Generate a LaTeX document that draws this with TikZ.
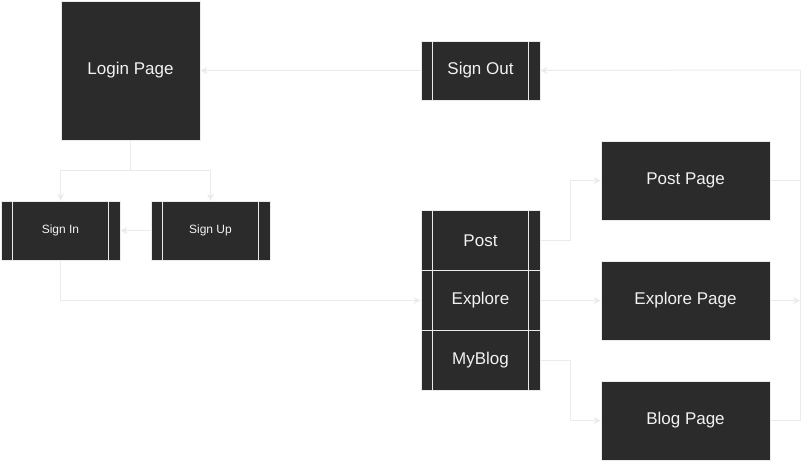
\documentclass[tikz,border=0pt]{standalone}
\usepackage{fontspec}
\setmainfont{Liberation Sans}
\usetikzlibrary{arrows.meta,calc}
\definecolor{boxc}{HTML}{2B2B2B}
\definecolor{linec}{HTML}{EBEBEB}
\definecolor{txtc}{HTML}{F2F2F2}
\tikzset{
  box/.style={draw=linec, line width=0.8pt, fill=boxc, inner sep=0pt, text=txtc, font=\fontsize{17}{20}\selectfont},
  sub/.style={box, path picture={
      \draw[linec, line width=1.2pt] ([xshift=11.5pt]path picture bounding box.north west) -- ([xshift=11.5pt]path picture bounding box.south west);
      \draw[linec, line width=1.2pt] ([xshift=-11.5pt]path picture bounding box.north east) -- ([xshift=-11.5pt]path picture bounding box.south east);}},
  small/.style={font=\fontsize{12}{14}\selectfont},
  conn/.style={draw=linec, line width=1pt},
  arr/.style={conn, -{Stealth[length=7pt,width=7pt]}},
}
\begin{document}
\begin{tikzpicture}[x=1pt,y=-1pt]
\useasboundingbox (0,0) rectangle (809,461);
\node[box, minimum width=139pt, minimum height=139pt] (login) at (130.5,70.5) {Login Page};
\node[sub, minimum width=119pt, minimum height=59pt] (signout) at (480.5,70.5) {Sign Out};
\node[sub, small, minimum width=119pt, minimum height=59pt] (signin) at (60.5,230.5) {Sign In};
\node[sub, small, minimum width=119pt, minimum height=59pt] (signup) at (210.5,230.5) {Sign Up};
\node[sub, minimum width=119pt, minimum height=59.5pt] (post) at (480.5,240.5) {Post};
\node[sub, minimum width=119pt, minimum height=59.5pt] (explore) at (480.5,300.5) {Explore};
\node[sub, minimum width=119pt, minimum height=59.5pt] (myblog) at (480.5,360.5) {MyBlog};
\node[box, minimum width=169pt, minimum height=79pt] (postpage) at (685.5,180.5) {Post Page};
\node[box, minimum width=169pt, minimum height=79pt] (explorepage) at (685.5,300.5) {Explore Page};
\node[box, minimum width=169pt, minimum height=79pt] (blogpage) at (685.5,420.5) {Blog Page};
\coordinate (split) at (130.5,170);
\coordinate (low) at (60.5,300);
\coordinate (mid) at (570,240);
\coordinate (bus) at (800,70);
% connectors
\draw[arr] (signout.west) -- (login.east);
\draw[conn] (login.south) -- (split);
\draw[arr] (split) -| (signin.north);
\draw[arr] (split) -| (signup.north);
\draw[arr] (signup.west) -- (signin.east);
\draw[arr] (signin.south) |- (explore.west);
\draw[arr] (post.east) -- (post.east -| mid) |- (postpage.west);
\draw[arr] (explore.east) -- (explorepage.west);
\draw[arr] (myblog.east) -- (myblog.east -| mid) |- (blogpage.west);
\draw[conn] (postpage.east) -| (bus);
\draw[conn] (blogpage.east) -| (bus);
\draw[arr] (bus) -- (signout.east);
\draw[arr] (explorepage.east) -- (explorepage.east -| bus);
\end{tikzpicture}
\end{document}
